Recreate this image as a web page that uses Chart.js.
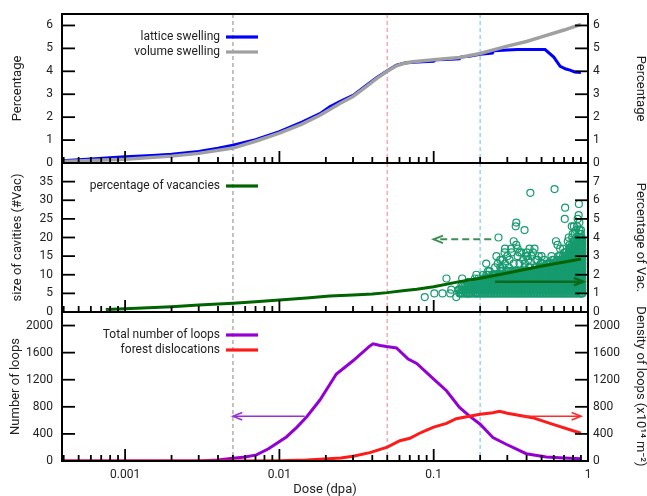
<!DOCTYPE html>
<html><head><meta charset="utf-8">
<script src="https://cdn.jsdelivr.net/npm/chart.js@4/dist/chart.umd.min.js"></script>
<style>
html,body{margin:0;padding:0;background:#fff;width:647px;height:496px;overflow:hidden;position:relative}
canvas{position:absolute;left:0}
</style></head><body>
<canvas id="c1" width="647" height="175" style="top:0px"></canvas>
<canvas id="c2" width="647" height="173" style="top:151px"></canvas>
<canvas id="c3" width="647" height="196" style="top:300px"></canvas>
<script>
// ---------- data ----------
const doseMin = 0.00039, doseMax = 1;
const doseTicks = [0.001, 0.01, 0.1, 1];
const markerDoses = [0.005, 0.05, 0.2];
const swellTicks = [0, 1, 2, 3, 4, 5, 6];
const cavTicks = [0, 5, 10, 15, 20, 25, 30, 35];
const vacTicks = [0, 1, 2, 3, 4, 5, 6, 7];
const loopTicks = [0, 400, 800, 1200, 1600, 2000];

const latticeDose = [0.00039,0.0006,0.001,0.0015,0.002,0.003,0.004,0.005,0.007,0.01,0.014,0.0183,0.0212,0.025,0.030,0.036,0.0426,0.05,0.0574,0.065,0.0735,0.085,0.1,0.103,0.12,0.147,0.15,0.17,0.2,0.24,0.245,0.3,0.35,0.527,0.6,0.66,0.72,0.764,0.82,0.9];
const latticeVal  = [0.10,0.17,0.27,0.33,0.38,0.50,0.64,0.78,1.02,1.37,1.78,2.15,2.45,2.70,2.95,3.35,3.72,4.02,4.27,4.36,4.40,4.42,4.44,4.50,4.52,4.55,4.62,4.66,4.74,4.80,4.90,4.93,4.95,4.95,4.62,4.22,4.10,4.05,3.97,3.95];
const volumeDose  = [0.00039,0.001,0.002,0.003,0.005,0.007,0.01,0.014,0.0183,0.025,0.030,0.036,0.0426,0.05,0.0574,0.065,0.0735,0.1,0.147,0.2,0.3,0.4,0.5,0.7,0.9];
const volumeVal   = [0.07,0.16,0.30,0.42,0.65,0.95,1.30,1.70,2.08,2.62,2.90,3.30,3.68,4.00,4.24,4.36,4.42,4.50,4.60,4.78,5.10,5.30,5.50,5.80,6.05];

const vacDose = [0.00075,0.001,0.002,0.003,0.005,0.007,0.01,0.015,0.0212,0.03,0.04,0.05,0.065,0.0776,0.1,0.147,0.2,0.295,0.485,0.9];
const vacVal  = [0.13,0.18,0.28,0.37,0.47,0.55,0.64,0.75,0.86,0.91,0.97,1.04,1.15,1.22,1.36,1.63,1.81,2.08,2.44,2.85];

const cavColDose = [0.147,0.151,0.155,0.159,0.163,0.167,0.171,0.175,0.180,0.185,0.190,0.195,
 0.200,0.209,0.218,0.228,0.238,0.249,0.260,0.272,0.284,0.297,0.310,0.324,0.339,0.354,0.370,0.387,0.404,0.423,0.442,0.462,0.483,0.505,0.528,0.552,0.577,0.603,0.630,0.659,0.689,0.720,0.753,0.787,0.823,0.860,0.899,0.920];
const cavColSizes = [
 [5,6],[5,6,7],[5,6],[5,6,7],[5,6,7],[5,6,7,8],[5,6,7],[5,6,7,8],[5,6,7,8],[5,6,7,8,9],[5,6,7,8],[5,6,7,8,9],
 [5,6,7,8],[5,6,7,8,9],[5,6,7,8,9],[5,6,7,8,9,10],[5,6,7,8,9],[5,6,7,8,9,10],[5,6,7,8,9,10],
 [5,6,7,8,9,10,11],[5,6,7,8,9,10],[5,6,7,8,9,10,11],[5,6,7,8,9,10],[5,6,7,8,9,10,11],[5,6,7,8,9,10,11],
 [5,6,7,8,9,10],[5,6,7,8,9,10,11],[5,6,7,8,9,10,11,12],[5,6,7,8,9,10,11],[5,6,7,8,9,10,11,12],
 [5,6,7,8,9,10,11],[5,6,7,8,9,10,11,12],[5,6,7,8,9,10,11,12],[5,6,7,8,9,10,11,12,13],[5,6,7,8,9,10,11,12],
 [5,6,7,8,9,10,11,12,13],[5,6,7,8,9,10,11,12,13],[5,6,7,8,9,10,11,12,13,14],[5,6,7,8,9,10,11,12,13,14],
 [5,6,7,8,9,10,11,12,13,14,15],[5,6,7,8,9,10,11,12,13,14,15],[5,6,7,8,9,10,11,12,13,14,15,16],
 [5,6,7,8,9,10,11,12,13,14,15,16,17],[5,6,7,8,9,10,11,12,13,14,15,16,17,18],
 [5,6,7,8,9,10,11,12,13,14,15,16,17,18,19],[5,6,7,8,9,10,11,12,13,14,15,16,17,18,19,20],
 [5,6,7,8,9,10,11,12,13,14,15,16,17,18,19,20,21],[5,6,7,8,9,10,11,12,13,14,15,16,17,18,19]
];
const cavColDoseB = [0.2045,0.2135,0.223,0.233,0.2435,0.2545,0.266,0.278,0.2905,0.3035,0.317,0.3315,0.3465,0.362,0.3785,0.3955,0.4135,0.4325,0.452,0.4725,0.494,0.5165,0.54,0.5645,0.59,0.6165,0.6445,0.674,0.7045,0.7365,0.77,0.805,0.8415,0.8795,0.9095];
const cavColSizesB = [
 [5,6,7,8],[5,6,7,8,9],[5,6,7,8,9,10],[5,6,7,8,9],[5,6,7,8,9,10],[5,6,7,8,9,10],[5,6,7,8,9,10],
 [5,6,7,8,9,10,11],[5,6,7,8,9,10],[5,6,7,8,9,10,11],[5,6,7,8,9,10,11],[5,6,7,8,9,10],[5,6,7,8,9,10,11],
 [5,6,7,8,9,10,11],[5,6,7,8,9,10,11],[5,6,7,8,9,10,11],[5,6,7,8,9,10,11,12],[5,6,7,8,9,10,11],
 [5,6,7,8,9,10,11,12],[5,6,7,8,9,10,11],[5,6,7,8,9,10,11,12,13],[5,6,7,8,9,10,11,12],[5,6,7,8,9,10,11,12,13],
 [5,6,7,8,9,10,11,12],[5,6,7,8,9,10,11,12,13,14],[5,6,7,8,9,10,11,12,13],[5,6,7,8,9,10,11,12,13,14,15],
 [5,6,7,8,9,10,11,12,13,14],[5,6,7,8,9,10,11,12,13,14,15,16],[5,6,7,8,9,10,11,12,13,14,15],
 [5,6,7,8,9,10,11,12,13,14,15,16,17],[5,6,7,8,9,10,11,12,13,14,15,16,17,18,19],
 [5,6,7,8,9,10,11,12,13,14,15,16,17,18,19,20],[5,6,7,8,9,10,11,12,13,14,15,16,17,18,19,20,21,22],
 [5,6,7,8,9,10,11,12,13,14,15,16,17,18,19,20]
];
const cavOutDose = [0.0875,0.101,0.114,0.128,0.140,0.121,0.153,0.163,0.176,0.179,0.189,0.199,0.13,0.145,0.155,0.165,0.17,0.185,0.19,0.195,0.15,0.17,
 0.219,0.225,0.21,0.23,0.24,0.25,0.27,0.26,0.29,0.219,0.255,0.279,0.288,0.307,0.31,0.318,0.33,0.36,0.38,0.263,0.343,0.340,0.343,0.359,0.388,0.398,0.405,0.418,0.423,0.430,0.462,0.47,0.5,0.52,0.564,0.58,0.607,0.620,0.635,0.66,0.69,0.707,0.711,0.740,0.75,0.759,0.785,0.79,0.796,0.81,0.82,0.836,0.85,0.857,0.87,0.873,0.88,0.9,
 0.27,0.30,0.32,0.35,0.37,0.40,0.44,0.45,0.48,0.33,0.35,0.29,0.41,0.39,0.28];
const cavOutSize = [4,5,5,5,4,9,9,5,7,8,10,7,6,6,7,6,5,6,5,8,5,8,
 10,11,10,11,10,12,12,13,13,13,15,14,16,12,14,17,13,13,14,20,24,23,18,16,22,15,15,17,32,15,14,14,15,14,13,15,33,19,18,17,17,25,28,19,20,18,23,20,21,23,21,22,23,25,26,29,24,22,
 14,15,16,15,16,16,16,17,15,19,17,17,14,13,12];

const loopDose = [0.00039,0.003,0.004,0.005,0.006,0.0071,0.0085,0.0111,0.013,0.015,0.0183,0.0212,0.0234,0.030,0.0386,0.0405,0.045,0.0494,0.0574,0.0683,0.0776,0.1,0.121,0.147,0.17,0.2,0.242,0.295,0.398,0.536,0.7,0.9];
const loopVal  = [0,0,15,40,60,90,180,355,500,650,900,1130,1285,1480,1700,1730,1705,1690,1670,1505,1440,1210,1037,790,667,543,345,247,108,60,45,35];
const forestDose = [0.00039,0.005,0.01,0.015,0.0183,0.025,0.030,0.0386,0.05,0.0604,0.07,0.081,0.09,0.1,0.121,0.14,0.17,0.2,0.242,0.267,0.3,0.326,0.437,0.587,0.9];
const forestVal  = [0,0,5,15,25,45,70,123,205,300,335,410,455,500,555,625,660,690,712,735,705,690,640,545,410];

const cavArrow = [[0.236, 19.5], [0.1, 19.5]];
const vacArrow = [[0.25, 1.63], [0.93, 1.63]];
const loopArrow = [[0.0146, 660], [0.005, 660]];
const forestArrow = [[0.378, 660], [0.9, 660]];

// ---------- helpers ----------
const FONT = 'Roboto, "Liberation Sans", sans-serif';
const TXT = '#222';
const pts = (xs, ys) => xs.map((x, i) => ({x, y: ys[i]}));
const cavPts = [];
cavColDose.forEach((d, i) => cavColSizes[i].forEach(s => cavPts.push({x: d, y: s})));
cavColDoseB.forEach((d, i) => cavColSizesB[i].forEach(s => cavPts.push({x: d, y: s})));
cavOutDose.forEach((d, i) => cavPts.push({x: d, y: cavOutSize[i]}));

const markerColors = ['#a9a9a9', '#f4a6b0', '#8fd3ea'];

function arrowDraw(ctx, x0, y0, x1, y1) {
  ctx.beginPath(); ctx.moveTo(x0, y0); ctx.lineTo(x1, y1); ctx.stroke();
  const ang = Math.atan2(y1 - y0, x1 - x0), L = 10, a = 0.38;
  ctx.setLineDash([]);
  ctx.beginPath();
  ctx.moveTo(x1 - L * Math.cos(ang - a), y1 - L * Math.sin(ang - a));
  ctx.lineTo(x1, y1);
  ctx.lineTo(x1 - L * Math.cos(ang + a), y1 - L * Math.sin(ang + a));
  ctx.stroke();
}

const decor = {
  id: 'decor',
  beforeDatasetsDraw(chart) {
    const {ctx, chartArea: a, scales} = chart;
    ctx.save();
    ctx.lineWidth = 1.4; ctx.setLineDash([4, 3]);
    markerDoses.forEach((d, i) => {
      const px = scales.x.getPixelForValue(d);
      ctx.strokeStyle = markerColors[i];
      ctx.beginPath(); ctx.moveTo(px, a.top); ctx.lineTo(px, a.bottom); ctx.stroke();
    });
    ctx.restore();
  },
  afterDatasetsDraw(chart, args, o) {
    const {ctx, chartArea: a, scales} = chart;
    ctx.save();
    (o.arrows || []).forEach(ar => {
      const sy = scales[ar.axis];
      ctx.strokeStyle = ar.color; ctx.lineWidth = ar.width; ctx.setLineDash(ar.dash);
      arrowDraw(ctx, scales.x.getPixelForValue(ar.pts[0][0]), sy.getPixelForValue(ar.pts[0][1]),
                     scales.x.getPixelForValue(ar.pts[1][0]), sy.getPixelForValue(ar.pts[1][1]));
    });
    ctx.setLineDash([]);
    ctx.strokeStyle = '#000'; ctx.lineWidth = 1.8;
    for (let k = -4; k <= 0; k++) {
      for (let m = 1; m <= 9; m++) {
        const v = m * Math.pow(10, k);
        if (v < doseMin || v > doseMax * 1.0001) continue;
        const px = scales.x.getPixelForValue(v);
        const len = m === 1 ? 12 : 6;
        ctx.beginPath(); ctx.moveTo(px, a.bottom); ctx.lineTo(px, a.bottom - len); ctx.stroke();
      }
    }
    o.leftTicks.forEach(v => {
      if (v === 0) return;
      const py = scales.yl.getPixelForValue(v);
      ctx.beginPath(); ctx.moveTo(a.left, py); ctx.lineTo(a.left + 13, py); ctx.stroke();
    });
    o.rightTicks.forEach(v => {
      if (v === 0) return;
      const py = scales.yr.getPixelForValue(v);
      ctx.beginPath(); ctx.moveTo(a.right, py); ctx.lineTo(a.right - 13, py); ctx.stroke();
    });
    ctx.lineWidth = 2;
    ctx.strokeRect(a.left, a.top, a.right - a.left, a.bottom - a.top);
    ctx.font = '12px ' + FONT; ctx.textAlign = 'right'; ctx.textBaseline = 'middle';
    (o.legend || []).forEach((idx, i) => {
      const ds = chart.data.datasets[idx];
      const y = a.top + 23 + i * 15;
      ctx.fillStyle = TXT;
      ctx.fillText(ds.label, a.left + 158, y);
      ctx.strokeStyle = ds.borderColor; ctx.lineWidth = 3.2;
      ctx.beginPath(); ctx.moveTo(a.left + 164, y); ctx.lineTo(a.left + 196, y); ctx.stroke();
    });
    ctx.restore();
  }
};

function yAxis(pos, min, max, ticks, title, titlePad) {
  return {
    position: pos, min, max, bounds: 'data',
    grid: {display: false, drawTicks: false}, border: {display: false},
    afterBuildTicks: s => { s.ticks = ticks.map(v => ({value: v})); },
    afterFit: s => { s.width = pos === 'left' ? 62 : 59; s.paddingTop = 0; s.paddingBottom = 0; },
    ticks: {padding: pos === 'left' ? 9 : 5, color: TXT, font: {family: FONT, size: 12}, callback: v => String(v)},
    title: {display: true, text: title, color: TXT, font: {family: FONT, size: 13}, padding: {top: titlePad, bottom: 0}}
  };
}

function xAxis(show) {
  const ax = {
    type: 'logarithmic', min: doseMin, max: doseMax, bounds: 'data', display: show, position: 'bottom',
    grid: {display: false, drawTicks: false}, border: {display: false},
    afterBuildTicks: s => { s.ticks = doseTicks.map(v => ({value: v})); },
    ticks: {autoSkip: false, maxRotation: 0, padding: 7, color: TXT, font: {family: FONT, size: 12}, callback: v => String(v)},
    title: {display: show, text: 'Dose (dpa)', color: TXT, font: {family: FONT, size: 13}, padding: {top: 0, bottom: -2}}
  };
  ax.afterFit = s => { if (show) s.height = 35; s.paddingLeft = 0; s.paddingRight = 0; };
  return ax;
}

function makeChart(id, datasets, padding, showX, yl, yr, decorOpts) {
  return new Chart(document.getElementById(id), {
    type: 'scatter',
    data: {datasets},
    options: {
      responsive: false, animation: false, devicePixelRatio: 1,
      layout: {padding},
      plugins: {legend: {display: false}, tooltip: {enabled: false}, decor: decorOpts},
      scales: {x: xAxis(showX), yl, yr}
    },
    plugins: [decor]
  });
}

const lineDs = (label, data, axis, color, width, order) => ({
  label, data, yAxisID: axis, showLine: true, borderColor: color, backgroundColor: color,
  borderWidth: width, pointRadius: 0, tension: 0, order
});

makeChart('c1', [
  lineDs('lattice swelling', pts(latticeDose, latticeVal), 'yl', '#0000ff', 3, 2),
  lineDs('volume swelling', pts(volumeDose, volumeVal), 'yl', '#a0a0a0', 3.5, 1)
], {top: 14, bottom: 12, left: 0, right: 0}, false,
  yAxis('left', 0, 6.5, swellTicks, 'Percentage', 10),
  yAxis('right', 0, 6.5, swellTicks, 'Percentage', -1),
  {leftTicks: swellTicks, rightTicks: swellTicks, legend: [0, 1]});

makeChart('c2', [
  lineDs('percentage of vacancies', pts(vacDose, vacVal), 'yr', '#006400', 3, 1),
  {label: 'size of cavities', data: cavPts, yAxisID: 'yl', showLine: false, pointRadius: 3.5,
   borderColor: '#169b6f', backgroundColor: 'rgba(0,0,0,0)', borderWidth: 1.2, order: 2}
], {top: 12, bottom: 12, left: 0, right: 0}, false,
  yAxis('left', 0, 40, cavTicks, 'size of cavities (#Vac)', 10),
  yAxis('right', 0, 8, vacTicks, 'Percentage of Vac.', -1),
  {leftTicks: cavTicks, rightTicks: vacTicks, legend: [0],
   arrows: [
     {axis: 'yl', pts: cavArrow, color: '#3c8f57', dash: [7, 4], width: 2},
     {axis: 'yr', pts: vacArrow, color: '#0b6b1c', dash: [], width: 2.5}
   ]});

makeChart('c3', [
  lineDs('Total number of loops', pts(loopDose, loopVal), 'yl', '#9400d3', 3, 2),
  lineDs('forest dislocations', pts(forestDose, forestVal), 'yr', '#ff1a1a', 3, 1)
], {top: 12, bottom: 0, left: 0, right: 0}, true,
  yAxis('left', 0, 2200, loopTicks, 'Number of loops', 8),
  yAxis('right', 0, 2200, loopTicks, 'Density of loops (x10\u00b9\u2074 m\u207b\u00b2)', -1),
  {leftTicks: loopTicks, rightTicks: loopTicks, legend: [0, 1],
   arrows: [
     {axis: 'yl', pts: loopArrow, color: '#9a30d8', dash: [], width: 1.6},
     {axis: 'yr', pts: forestArrow, color: '#ff2a2a', dash: [], width: 1.6}
   ]});
</script>
</body></html>
